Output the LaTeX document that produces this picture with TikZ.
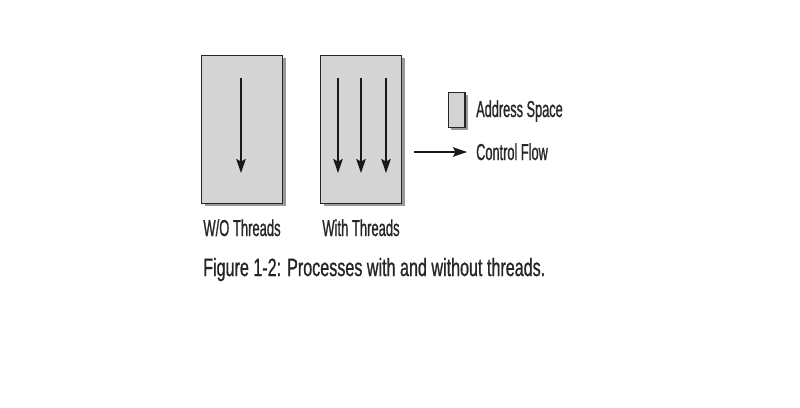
\documentclass[tikz,border=0pt]{standalone}
\usepackage{fontspec}
\setmainfont{Liberation Sans}
\newfontfamily\labelfont[FakeStretch=0.565,FakeBold=0.8]{Liberation Sans}
\newfontfamily\legfont[FakeStretch=0.555,FakeBold=0.8]{Liberation Sans}
\newfontfamily\capfont[FakeStretch=0.645,FakeBold=0.8]{Liberation Sans}
\usetikzlibrary{arrows.meta}
\definecolor{boxgray}{HTML}{D4D4D4}
\definecolor{shadowgray}{HTML}{9A9A9A}
\tikzset{
  procbox/.style={draw=black!85, line width=1.4pt, fill=boxgray, minimum width=81pt, minimum height=148pt, inner sep=0pt},
  legbox/.style={draw=black!85, line width=1.4pt, fill=boxgray, minimum width=16.5pt, minimum height=35pt, inner sep=0pt},
  shadowbox/.style={fill=shadowgray, draw=none, inner sep=0pt},
  flow/.style={line width=1.5pt, draw=black!90, -{Stealth[length=14pt,width=9.5pt,inset=2.5pt]}},
  lbl/.style={font=\labelfont\fontsize{23}{27}\selectfont, text=black!85, inner sep=0pt, anchor=base},
  leg/.style={font=\legfont\fontsize{23}{27}\selectfont, text=black!85, inner sep=0pt, anchor=base west},
  captext/.style={font=\capfont\fontsize{25}{29}\selectfont, text=black!85, inner sep=0pt, anchor=base west}
}
\begin{document}
\begin{tikzpicture}[x=1pt,y=-1pt]
\useasboundingbox[fill=white] (0,0) rectangle (800,407);
% shadows
\node[shadowbox, minimum width=81pt, minimum height=148pt] (shA) at (245.2,132.2) {};
\node[shadowbox, minimum width=81pt, minimum height=148pt] (shB) at (364.2,132.2) {};
\node[shadowbox, minimum width=16.5pt, minimum height=35pt] (shL) at (459.5,112.8) {};
% boxes
\node[procbox] (boxA) at (242.2,129.2) {};
\node[procbox] (boxB) at (361.2,129.2) {};
\node[legbox] (legbox) at (456.7,110) {};
% arrows
\coordinate (a1s) at (241,78); \coordinate (a1e) at (241,173);
\coordinate (b1s) at (338,78); \coordinate (b1e) at (338,173);
\coordinate (b2s) at (361,78); \coordinate (b2e) at (361,173);
\coordinate (b3s) at (386,78); \coordinate (b3e) at (386,173);
\coordinate (ls) at (414,152); \coordinate (le) at (467,152);
\draw[flow] (a1s) -- (a1e);
\draw[flow] (b1s) -- (b1e);
\draw[flow] (b2s) -- (b2e);
\draw[flow] (b3s) -- (b3e);
\draw[flow] (ls) -- (le);
% labels
\node[lbl] (la) at (242,236) {W/O Threads};
\node[lbl] (lb) at (361,236) {With Threads};
\node[leg] (lt1) at (476,117) {Address Space};
\node[leg] (lt2) at (476,160) {Control Flow};
\node[captext] (caption) at (203,276) {Figure 1-2: Processes with and without threads.};
\end{tikzpicture}
\end{document}
